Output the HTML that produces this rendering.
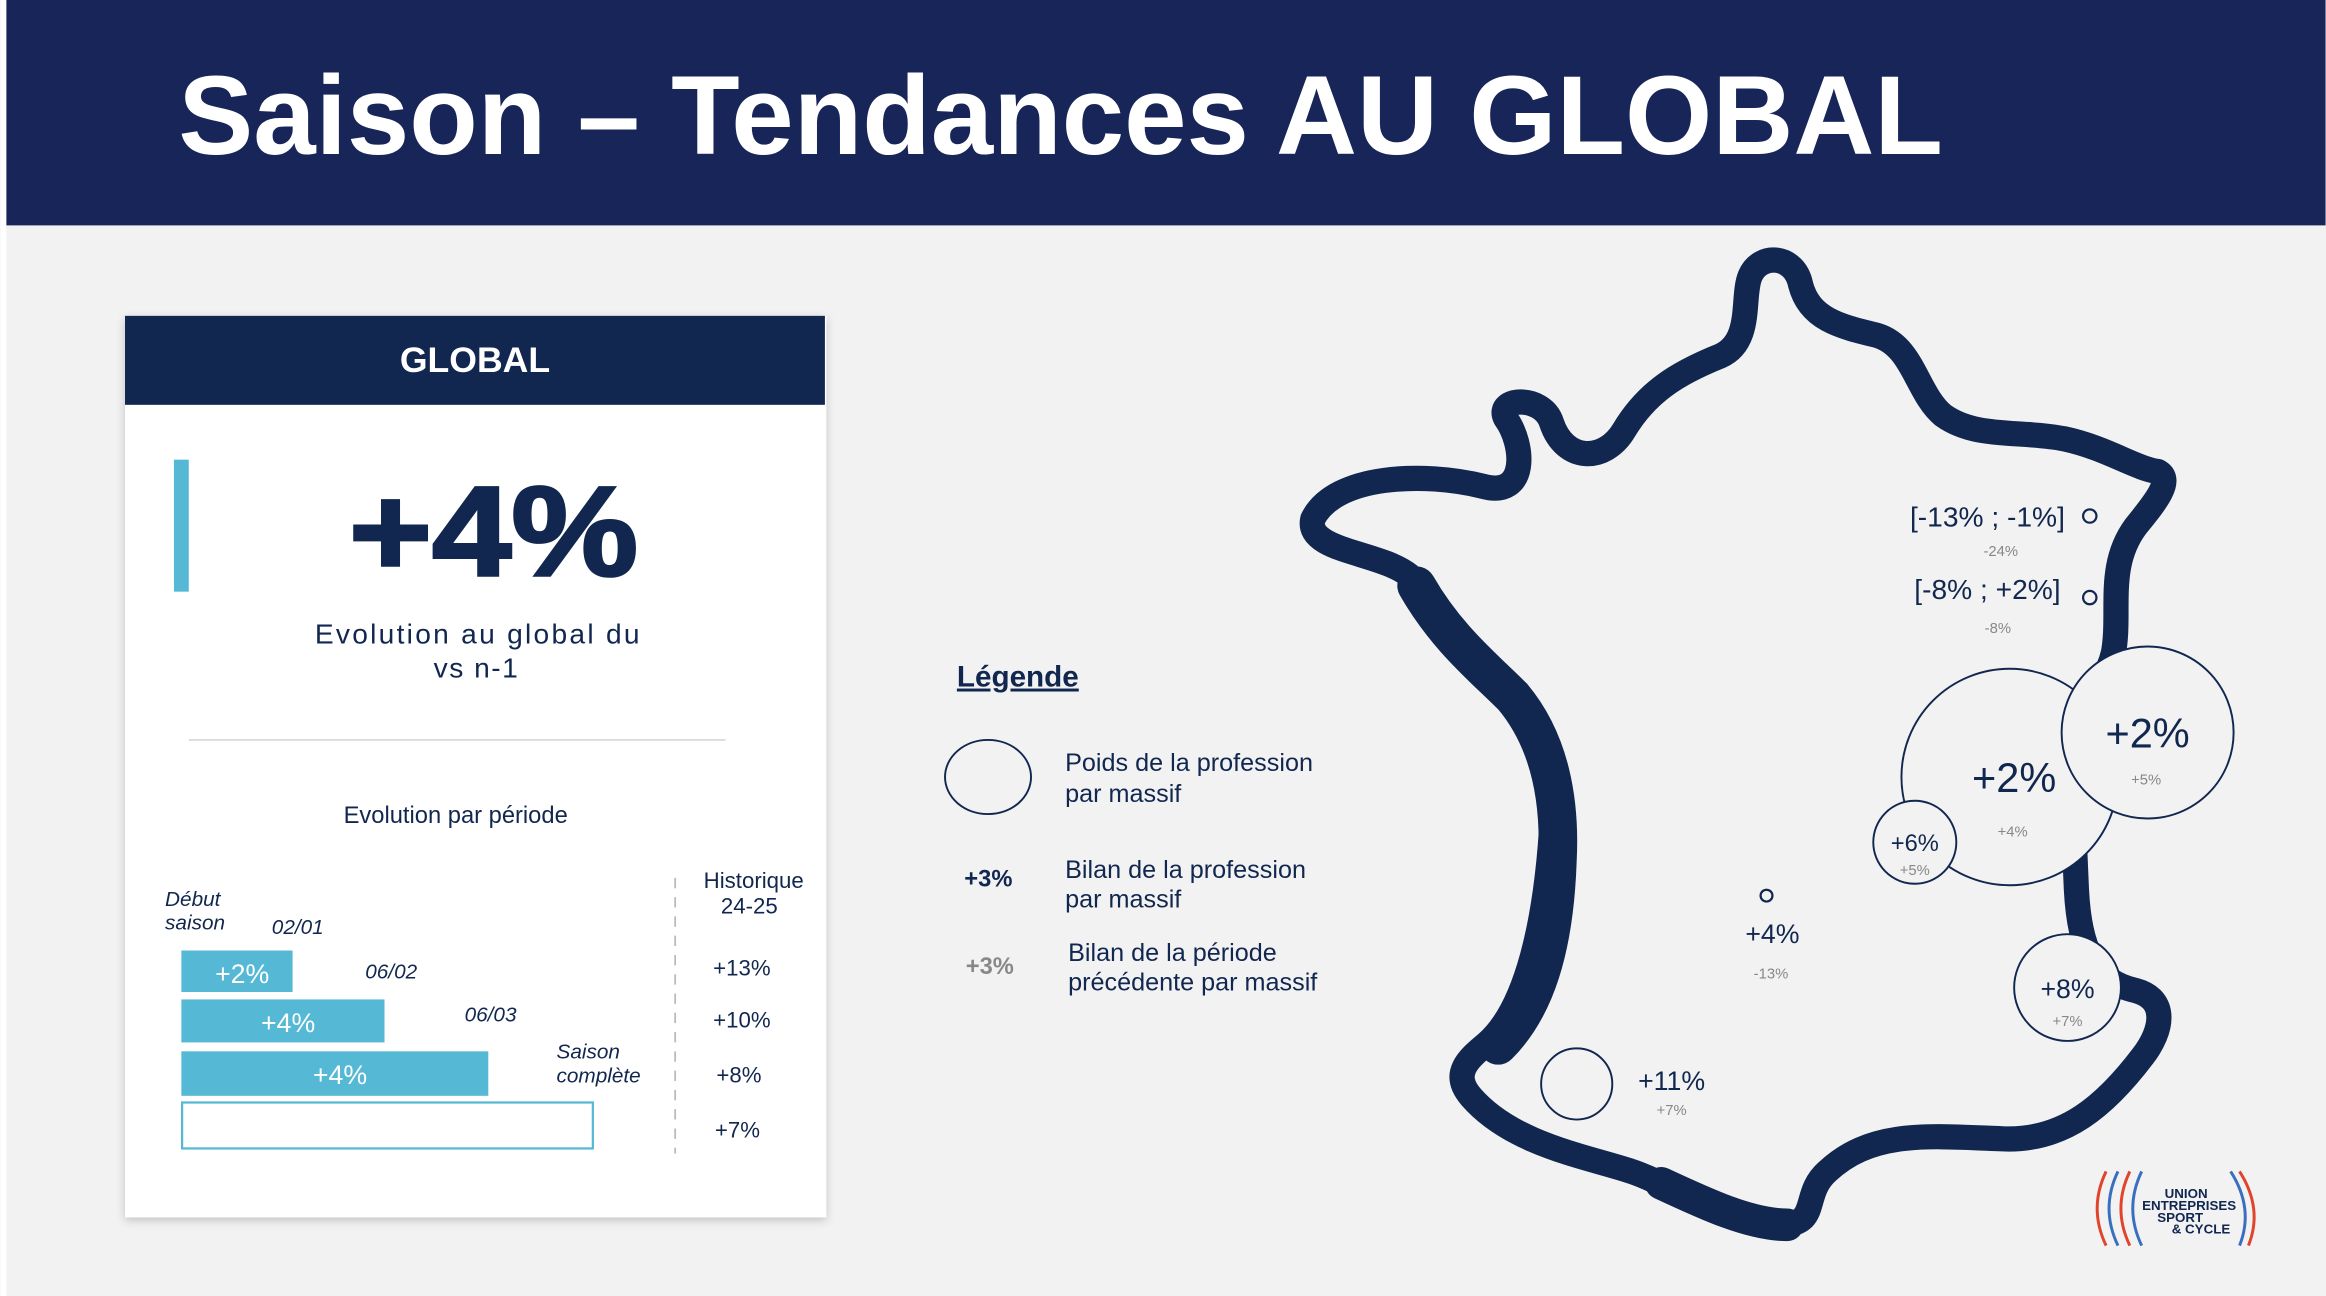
<!DOCTYPE html>
<html><head><meta charset="utf-8"><style>
html,body{margin:0;padding:0;background:#f2f2f2;}
svg{display:block;font-family:"Liberation Sans",sans-serif;}
</style></head><body>
<svg width="2326" height="1296" viewBox="0 0 1568 874" xmlns="http://www.w3.org/2000/svg">
<defs><filter id="sh" x="-10%" y="-10%" width="120%" height="120%"><feDropShadow dx="0" dy="2" stdDeviation="3" flood-color="#000" flood-opacity="0.2"/></filter></defs>
<rect width="1568" height="874" fill="#f2f2f2"/>
<rect x="0" y="0" width="4" height="874" fill="#fff"/>
<rect x="4" y="0" width="1564" height="152" fill="#172558"/>
<text x="120" y="104" font-size="76" font-weight="bold" fill="#fff" textLength="1190" lengthAdjust="spacingAndGlyphs">Saison – Tendances AU GLOBAL</text>

<!-- card -->
<rect x="84" y="213" width="473" height="608" fill="#fff" filter="url(#sh)"/>
<rect x="84" y="213" width="472" height="60" fill="#11274f"/>
<text x="320" y="251" font-size="24" font-weight="bold" fill="#fff" text-anchor="middle">GLOBAL</text>
<rect x="117" y="310" width="10" height="89" fill="#55b8d4"/>
<text x="235" y="388" font-size="86" font-weight="bold" fill="#11274f" stroke="#11274f" stroke-width="2" textLength="195" lengthAdjust="spacingAndGlyphs">+4%</text>
<text x="212" y="434" font-size="19" fill="#11274f" textLength="219" lengthAdjust="spacing">Evolution au global du</text>
<text x="321" y="457" font-size="19" fill="#11274f" text-anchor="middle" letter-spacing="1">vs n-1</text>
<line x1="127" y1="499" x2="489" y2="499" stroke="#cfcfcf" stroke-width="1"/>
<text x="307" y="555" font-size="16" fill="#11274f" text-anchor="middle">Evolution par période</text>
<text x="111" y="611" font-size="14" font-style="italic" fill="#11274f">Début</text>
<text x="111" y="627" font-size="14" font-style="italic" fill="#11274f">saison</text>
<text x="183" y="630" font-size="14" font-style="italic" fill="#11274f">02/01</text>
<text x="246" y="660" font-size="14" font-style="italic" fill="#11274f">06/02</text>
<text x="313" y="689" font-size="14" font-style="italic" fill="#11274f">06/03</text>
<text x="375" y="714" font-size="14" font-style="italic" fill="#11274f">Saison</text>
<text x="375" y="730" font-size="14" font-style="italic" fill="#11274f">complète</text>
<rect x="122" y="641" width="75" height="28" fill="#55b8d4"/>
<text x="163" y="663" font-size="18" fill="#fff" text-anchor="middle">+2%</text>
<rect x="122" y="674" width="137" height="29" fill="#55b8d4"/>
<text x="194" y="696" font-size="18" fill="#fff" text-anchor="middle">+4%</text>
<rect x="122" y="709" width="207" height="30" fill="#55b8d4"/>
<text x="229" y="731" font-size="18" fill="#fff" text-anchor="middle">+4%</text>
<rect x="122.5" y="743.5" width="277" height="31" fill="#fff" stroke="#55b8d4" stroke-width="1.5"/>
<line x1="455" y1="592" x2="455" y2="778" stroke="#bbb" stroke-width="1.2" stroke-dasharray="7,6"/>
<text x="508" y="599" font-size="15" fill="#11274f" text-anchor="middle">Historique</text>
<text x="505" y="616" font-size="15" fill="#11274f" text-anchor="middle">24-25</text>
<text x="500" y="658" font-size="15" fill="#11274f" text-anchor="middle">+13%</text>
<text x="500" y="693" font-size="15" fill="#11274f" text-anchor="middle">+10%</text>
<text x="498" y="730" font-size="15" fill="#11274f" text-anchor="middle">+8%</text>
<text x="497" y="767" font-size="15" fill="#11274f" text-anchor="middle">+7%</text>

<!-- legend -->
<text x="645" y="463" font-size="20" font-weight="bold" fill="#11274f" text-decoration="underline">Légende</text>
<ellipse cx="666" cy="524" rx="29" ry="25" fill="none" stroke="#11274f" stroke-width="1.3"/>
<text x="718" y="520" font-size="17" fill="#11274f">Poids de la profession</text>
<text x="718" y="541" font-size="17" fill="#11274f">par massif</text>
<text x="650" y="598" font-size="16" font-weight="bold" fill="#11274f">+3%</text>
<text x="718" y="592" font-size="17" fill="#11274f">Bilan de la profession</text>
<text x="718" y="612" font-size="17" fill="#11274f">par massif</text>
<text x="651" y="657" font-size="16" font-weight="bold" fill="#888">+3%</text>
<text x="720" y="648" font-size="17" fill="#11274f">Bilan de la période</text>
<text x="720" y="668" font-size="17" fill="#11274f">précédente par massif</text>

<!-- map -->
<path d="M 885,350 C 900,320 960,318 1000,328 C 1030,336 1028,300 1015,282 C 1008,268 1040,266 1046,285 C 1055,312 1082,312 1095,290 C 1110,265 1130,252 1160,240 C 1182,230 1174,200 1180,186 C 1187,170 1210,172 1214,192 C 1220,215 1240,220 1265,226 C 1290,233 1292,265 1310,280 C 1332,296 1362,290 1392,296 C 1420,302 1440,316 1455,318 C 1466,324 1452,340 1440,355 C 1420,382 1430,412 1425,440 C 1420,462 1405,472 1395,485 L 1400,600 C 1402,640 1412,662 1440,668 C 1462,674 1458,695 1445,712 C 1420,745 1392,770 1350,768 C 1300,766 1262,762 1232,790 C 1214,806 1228,826 1200,826 C 1160,826 1130,800 1100,790 C 1070,780 1020,772 992,740 C 978,724 990,714 1002,704 C 1030,680 1042,620 1046,560 C 1050,505 1030,470 1000,450 C 975,432 966,402 950,388 C 930,372 880,372 885,350 Z" fill="none" stroke="#11274f" stroke-width="17" stroke-linejoin="round"/>
<path d="M 955,395 C 975,430 1000,450 1020,470 C 1045,500 1052,540 1050,580 C 1048,640 1035,680 1010,705" fill="none" stroke="#11274f" stroke-width="26" stroke-linecap="round"/>
<path d="M 1120,798 C 1150,812 1180,826 1205,826" fill="none" stroke="#11274f" stroke-width="22" stroke-linecap="round"/>

<circle cx="1409" cy="348" r="4.5" fill="none" stroke="#11274f" stroke-width="1.5"/>
<circle cx="1409" cy="403" r="4.5" fill="none" stroke="#11274f" stroke-width="1.5"/>
<circle cx="1191" cy="604" r="4" fill="none" stroke="#11274f" stroke-width="1.5"/>
<text x="1340" y="355" font-size="19" fill="#11274f" text-anchor="middle">[-13% ; -1%]</text>
<text x="1349" y="375" font-size="10" fill="#888" text-anchor="middle">-24%</text>
<text x="1340" y="404" font-size="19" fill="#11274f" text-anchor="middle">[-8% ; +2%]</text>
<text x="1347" y="427" font-size="10" fill="#888" text-anchor="middle">-8%</text>

<circle cx="1355" cy="524" r="73" fill="#f2f2f2" stroke="#11274f" stroke-width="1.3"/>
<circle cx="1448" cy="494" r="58" fill="#f2f2f2" stroke="#11274f" stroke-width="1.3"/>
<circle cx="1291" cy="568" r="28" fill="#f2f2f2" stroke="#11274f" stroke-width="1.3"/>
<circle cx="1394" cy="666" r="36" fill="#f2f2f2" stroke="#11274f" stroke-width="1.3"/>
<circle cx="1063" cy="731" r="24" fill="none" stroke="#11274f" stroke-width="1.3"/>
<text x="1358" y="534" font-size="28" fill="#11274f" text-anchor="middle">+2%</text>
<text x="1357" y="564" font-size="10" fill="#888" text-anchor="middle">+4%</text>
<text x="1448" y="504" font-size="28" fill="#11274f" text-anchor="middle">+2%</text>
<text x="1447" y="529" font-size="10" fill="#888" text-anchor="middle">+5%</text>
<text x="1291" y="574" font-size="16" fill="#11274f" text-anchor="middle">+6%</text>
<text x="1291" y="590" font-size="10" fill="#888" text-anchor="middle">+5%</text>
<text x="1394" y="673" font-size="18" fill="#11274f" text-anchor="middle">+8%</text>
<text x="1394" y="692" font-size="10" fill="#888" text-anchor="middle">+7%</text>
<text x="1195" y="636" font-size="18" fill="#11274f" text-anchor="middle">+4%</text>
<text x="1194" y="660" font-size="10" fill="#888" text-anchor="middle">-13%</text>
<text x="1127" y="735" font-size="18" fill="#11274f" text-anchor="middle">+11%</text>
<text x="1127" y="752" font-size="10" fill="#888" text-anchor="middle">+7%</text>

<!-- logo -->
<g fill="none" stroke-width="2">
<path d="M1420,790 Q1408,815 1420,840" stroke="#e0452b"/>
<path d="M1428,790 Q1416,815 1428,840" stroke="#3a6fc0"/>
<path d="M1436,790 Q1424,815 1436,840" stroke="#e0452b"/>
<path d="M1444,790 Q1432,815 1444,840" stroke="#3a6fc0"/>
<path d="M1510,790 Q1526,815 1516,840" stroke="#e0452b"/>
<path d="M1504,790 Q1520,815 1510,840" stroke="#3a6fc0"/>
</g>
<text x="1474" y="808" font-size="9" font-weight="bold" fill="#11274f" text-anchor="middle">UNION</text>
<text x="1476" y="816" font-size="9" font-weight="bold" fill="#11274f" text-anchor="middle">ENTREPRISES</text>
<text x="1470" y="824" font-size="9" font-weight="bold" fill="#11274f" text-anchor="middle">SPORT</text>
<text x="1484" y="832" font-size="9" font-weight="bold" fill="#11274f" text-anchor="middle">&amp; CYCLE</text>
</svg>
</body></html>
